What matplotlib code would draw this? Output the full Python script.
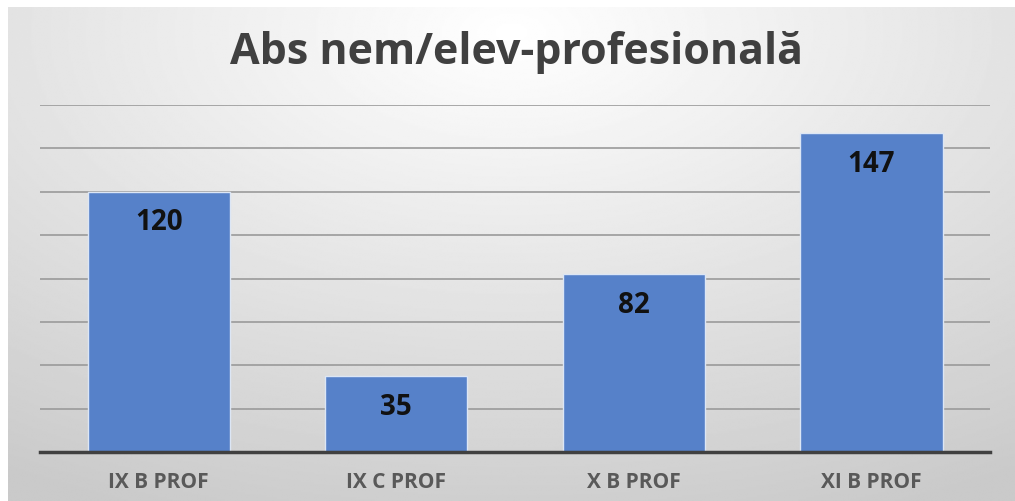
import numpy as np
import matplotlib
matplotlib.use("Agg")
import matplotlib.pyplot as plt

# date
clase = ["IX B PROF", "IX C PROF", "X B PROF", "XI B PROF"]
absente = [120, 35, 82, 147]
titlu = "Abs nem/elev-profesională"

plt.rcParams['font.family'] = ['Open Sans', 'DejaVu Sans']

W, H = 1015, 502
fig = plt.figure(figsize=(W / 100, H / 100), dpi=100)

# fundal cu gradient radial (alb sus la mijloc, gri spre margini)
bg = fig.add_axes([8 / W, 0, 1 - 8 / W, 1 - 8 / H])
yy, xx = np.mgrid[0:1:300j, 0:1:600j]
d = np.sqrt(((xx - 0.5) * 1.0) ** 2 + ((yy - 0.05) * 0.9) ** 2)
d = np.clip(d / 0.95, 0, 1)
val = 1.0 - 0.21 * d
bg.imshow(val, cmap="gray", vmin=0, vmax=1, aspect="auto",
          extent=[0, 1, 1, 0], interpolation="bilinear")
bg.set_axis_off()

ax = fig.add_axes([40 / W, (H - 453) / H, 950 / W, (453 - 106) / H])
ax.patch.set_alpha(0)
x = np.arange(len(clase))
bars = ax.bar(x, absente, width=0.6, color="#5681C9", edgecolor="#dce6f5",
              linewidth=1.0, zorder=3)
ax.set_xlim(-0.5, len(clase) - 0.5)
ax.set_ylim(0, 160)
ax.set_yticks(np.arange(20, 161, 20))
ax.yaxis.grid(True, color="#9a9a9a", linewidth=1.2, zorder=0)
ax.tick_params(axis="y", length=0, labelleft=False)
ax.tick_params(axis="x", length=0, pad=14)
ax.set_xticks(x)
ax.set_xticklabels(clase, fontsize=15, fontweight="bold", color="#595959")
for s in ["top", "right", "left"]:
    ax.spines[s].set_visible(False)
ax.spines["bottom"].set_color("#404040")
ax.spines["bottom"].set_linewidth(2.5)
ax.spines["bottom"].set_zorder(4)

for b, v in zip(bars, absente):
    ax.annotate(str(v), (b.get_x() + b.get_width() / 2, v),
                xytext=(0, -30), textcoords="offset pixels",
                ha="center", va="center", fontsize=20, fontweight="bold",
                color="#111111", zorder=5)

fig.text(516 / W, 1 - 53 / H, titlu, ha="center", va="center", fontsize=31,
         fontweight="bold", color="#404040")

fig.savefig("out.png", dpi=100, facecolor="white")
